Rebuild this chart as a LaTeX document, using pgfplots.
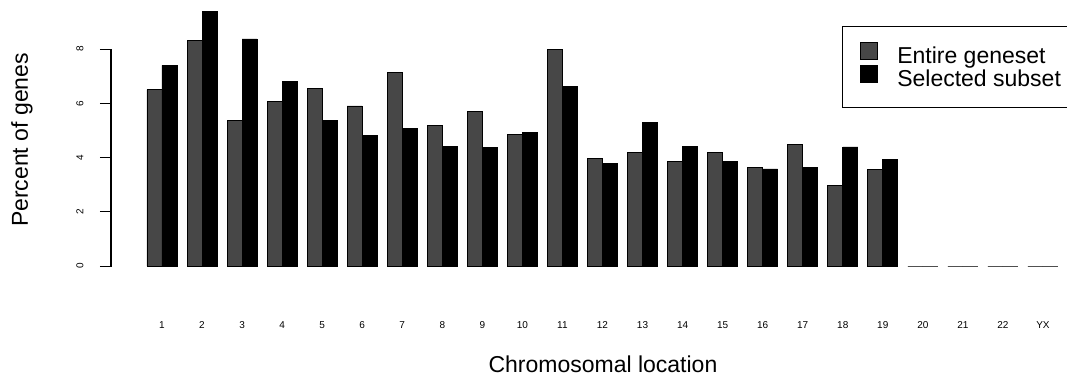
\documentclass[border=0pt]{standalone}
\usepackage{pgfplots}
\pgfplotsset{compat=1.18}
\usepackage{fontspec}
\setmainfont{Liberation Sans}
\begin{document}
\begin{tikzpicture}
\begin{axis}[
  at={(111pt,110pt)}, anchor=south west,
  scale only axis, width=956pt, height=217pt,
  xmin=-0.273, xmax=23.6, ymin=0, ymax=8,
  clip=false,
  axis x line*=bottom, axis y line*=left,
  separate axis lines,
  x axis line style={draw=none},
  y axis line style={draw=black, line width=1.2pt},
  /pgf/number format/assume math mode=true,
  ybar=0pt, bar width=15pt,
  ytick={0,2,4,6,8},
  tick align=outside,
  major tick length=11pt,
  ytick style={black, line width=1pt},
  xtick style={white},
  xtick={1,...,23},
  xticklabels={1,2,3,4,5,6,7,8,9,10,11,12,13,14,15,16,17,18,19,20,21,22,YX},
  xticklabel style={font=\fontsize{10}{10}\selectfont, anchor=center, yshift=-48pt},
  yticklabel style={font=\fontsize{10}{10}\selectfont, anchor=center, xshift=-20pt, rotate=90},
  every axis y label/.style={at={(axis description cs:-0.0931,0.5806)}, rotate=90, anchor=center},
  every axis x label/.style={at={(axis description cs:0.5146,-0.4885)}, anchor=base},
  ylabel={Percent of genes},
  xlabel={Chromosomal location},
  label style={font=\fontsize{23}{25}\selectfont},
  legend style={at={(axis description cs:0.7646,1.106)}, anchor=north west,
    draw=black, line width=1pt, inner xsep=18pt, inner ysep=14pt, row sep=-7pt,
    column sep=17pt,
    font=\fontsize{23}{25}\selectfont,
    nodes={text height=21pt, text depth=5pt, inner sep=2pt}},
  legend cell align=left,
  legend image code/.code={\fill[#1] (0pt,-4pt) rectangle (17pt,13pt);},
]
\addplot[fill=black!72, draw=black, line width=0.8pt] coordinates {
(1,6.5) (2,8.3) (3,5.35) (4,6.08) (5,6.56) (6,5.9) (7,7.12) (8,5.17) (9,5.7) (10,4.85)
(11,7.99) (12,3.96) (13,4.2) (14,3.85) (15,4.2) (16,3.65) (17,4.47) (18,2.96) (19,3.57)
(20,0) (21,0) (22,0) (23,0)};
\addplot[fill=black, draw=black, line width=0.8pt] coordinates {
(1,7.4) (2,9.37) (3,8.37) (4,6.82) (5,5.38) (6,4.8) (7,5.08) (8,4.4) (9,4.36) (10,4.92)
(11,6.61) (12,3.78) (13,5.3) (14,4.42) (15,3.87) (16,3.58) (17,3.62) (18,4.39) (19,3.92)
(20,0) (21,0) (22,0) (23,0)};
\legend{Entire geneset, Selected subset}
\end{axis}
\draw[black, line width=1.2pt] (111pt,109.5pt) -- (111pt,327.5pt);
\pgfresetboundingbox
\path[use as bounding box] (0,0) rectangle (1067pt,376pt);
\end{tikzpicture}
\end{document}
